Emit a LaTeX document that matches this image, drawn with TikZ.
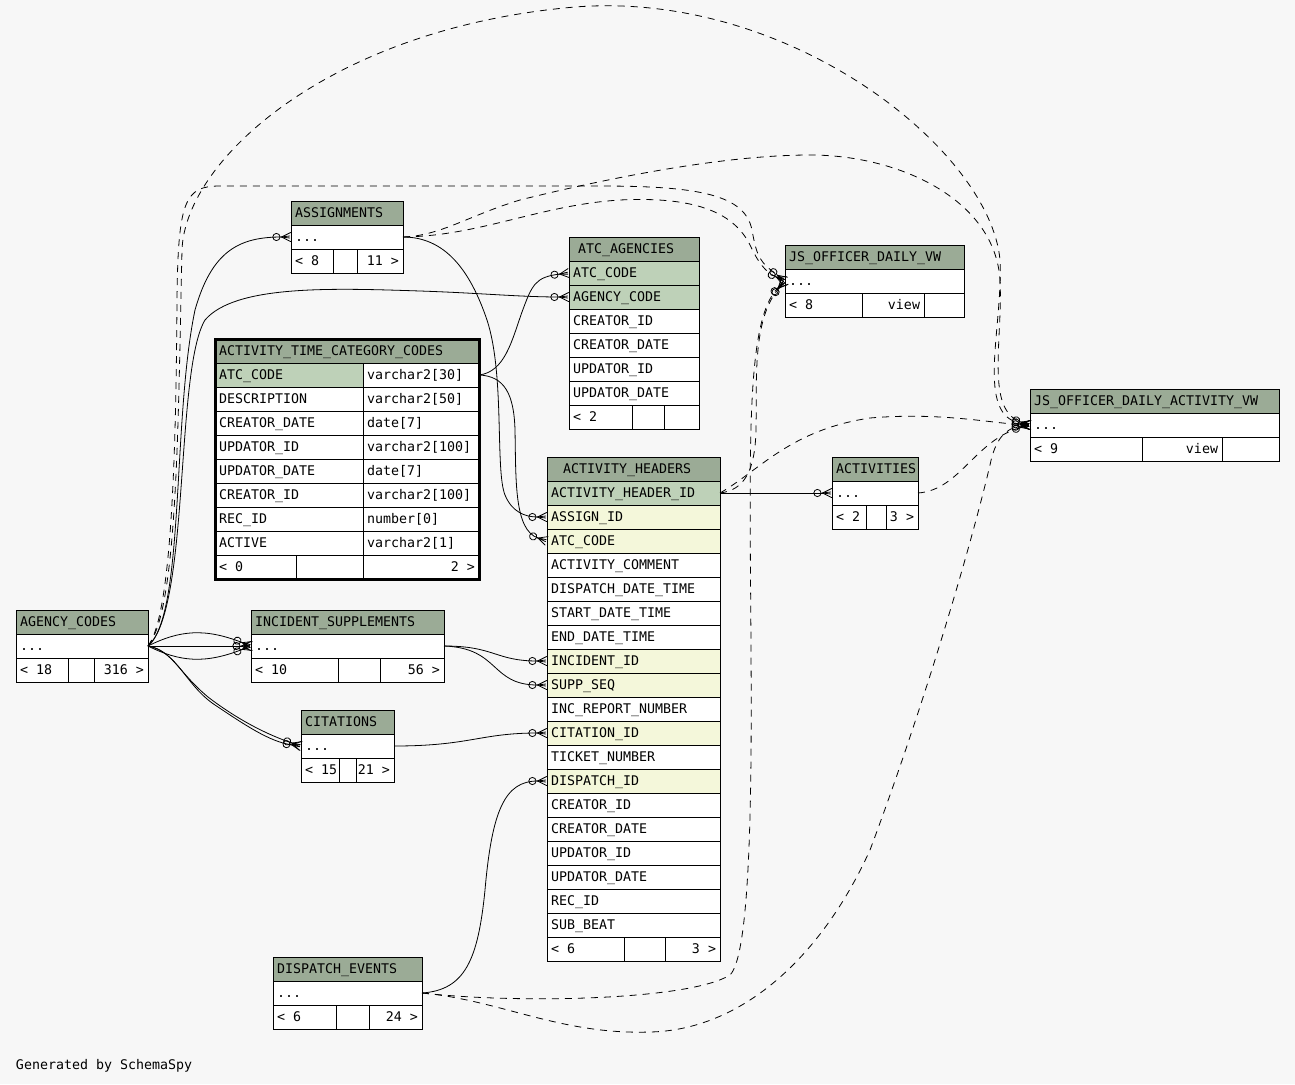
\documentclass[tikz,border=0pt]{standalone}
\usepackage{fontspec}
\setmainfont{DejaVu Sans Mono}
\usetikzlibrary{arrows.meta}
\definecolor{bgc}{HTML}{F7F7F7}
\definecolor{hdr}{HTML}{9BAB96}
\definecolor{pkc}{HTML}{BED1B8}
\definecolor{fkc}{HTML}{F4F7DA}
\tikzset{
  cellbox/.style={draw=black, line width=1pt, anchor=north west, minimum height=24pt, inner sep=0pt, outer sep=0pt},
  ctext/.style={inner sep=0pt, outer sep=0pt, font=\fontsize{13.3}{16}\selectfont, text=black},
  crowo/.tip={Circle[open,length=8pt,width=8pt,sep=0pt] Straight Barb[reversed,round,length=9pt,width=2pt,sep=-9pt] Straight Barb[reversed,round,length=9pt,width=9pt]},
  fk/.style={draw=black, line width=0.8pt, -{crowo}},
  implied/.style={fk, dash pattern=on 7pt off 6pt},
}
% name, x1, x2, ytop, fill, text
\newcommand\rowL[6]{%
  \node[cellbox, fill=#5, minimum width=#3-#2] (#1) at (#2,#4) {};
  \node[ctext, anchor=base west] (#1-t) at (#2+4,#4+16) {#6};}
\newcommand\rowR[6]{%
  \node[cellbox, fill=#5, minimum width=#3-#2] (#1) at (#2,#4) {};
  \node[ctext, anchor=base east] (#1-t) at (#3-4,#4+16) {#6};}
% header: name, x1, x2, ytop, textx, text
\newcommand\hdrcell[6]{%
  \node[cellbox, fill=hdr, minimum width=#3-#2] (#1) at (#2,#4) {};
  \node[ctext, anchor=base west] (#1-t) at (#5,#4+16) {#6};}
\begin{document}
\begin{tikzpicture}[x=1pt,y=-1pt]
\path[use as bounding box, fill=bgc] (0,0) rectangle (1295,1084);

% ---------------- ASSIGNMENTS
\hdrcell{as-h}{291}{403}{201}{295}{ASSIGNMENTS}
\rowL{as-r}{291}{403}{225}{white}{...}
\rowL{as-f1}{291}{333}{249}{white}{< 8}
\rowL{as-f2}{333}{357}{249}{white}{}
\rowR{as-f3}{357}{403}{249}{white}{11 >}

% ---------------- ATC_AGENCIES
\hdrcell{aa-h}{569}{699}{237}{578}{ATC\_AGENCIES}
\rowL{aa-1}{569}{699}{261}{pkc}{ATC\_CODE}
\rowL{aa-2}{569}{699}{285}{pkc}{AGENCY\_CODE}
\rowL{aa-3}{569}{699}{309}{white}{CREATOR\_ID}
\rowL{aa-4}{569}{699}{333}{white}{CREATOR\_DATE}
\rowL{aa-5}{569}{699}{357}{white}{UPDATOR\_ID}
\rowL{aa-6}{569}{699}{381}{white}{UPDATOR\_DATE}
\rowL{aa-f1}{569}{632}{405}{white}{< 2}
\rowL{aa-f2}{632}{664}{405}{white}{}
\rowL{aa-f3}{664}{699}{405}{white}{}

% ---------------- ACTIVITY_TIME_CATEGORY_CODES
\hdrcell{tc-h}{215}{479}{339}{219}{ACTIVITY\_TIME\_CATEGORY\_CODES}
\rowL{tc-1a}{215}{363}{363}{pkc}{ATC\_CODE}
\rowL{tc-1b}{363}{479}{363}{white}{varchar2[30]}
\rowL{tc-2a}{215}{363}{387}{white}{DESCRIPTION}
\rowL{tc-2b}{363}{479}{387}{white}{varchar2[50]}
\rowL{tc-3a}{215}{363}{411}{white}{CREATOR\_DATE}
\rowL{tc-3b}{363}{479}{411}{white}{date[7]}
\rowL{tc-4a}{215}{363}{435}{white}{UPDATOR\_ID}
\rowL{tc-4b}{363}{479}{435}{white}{varchar2[100]}
\rowL{tc-5a}{215}{363}{459}{white}{UPDATOR\_DATE}
\rowL{tc-5b}{363}{479}{459}{white}{date[7]}
\rowL{tc-6a}{215}{363}{483}{white}{CREATOR\_ID}
\rowL{tc-6b}{363}{479}{483}{white}{varchar2[100]}
\rowL{tc-7a}{215}{363}{507}{white}{REC\_ID}
\rowL{tc-7b}{363}{479}{507}{white}{number[0]}
\rowL{tc-8a}{215}{363}{531}{white}{ACTIVE}
\rowL{tc-8b}{363}{479}{531}{white}{varchar2[1]}
\rowL{tc-f1}{215}{296}{555}{white}{< 0}
\rowL{tc-f2}{296}{363}{555}{white}{}
\rowR{tc-f3}{363}{479}{555}{white}{2 >}
\node[draw=black, line width=3pt, anchor=north west, minimum width=264, minimum height=240, inner sep=0pt, outer sep=0pt] (tc) at (215,339) {};

% ---------------- JS_OFFICER_DAILY_VW
\hdrcell{jv-h}{785}{964}{245}{789}{JS\_OFFICER\_DAILY\_VW}
\rowL{jv-r}{785}{964}{269}{white}{...}
\rowL{jv-f1}{785}{862}{293}{white}{< 8}
\rowR{jv-f2}{862}{924}{293}{white}{view}
\rowL{jv-f3}{924}{964}{293}{white}{}

% ---------------- JS_OFFICER_DAILY_ACTIVITY_VW
\hdrcell{ja-h}{1030}{1279}{389}{1034}{JS\_OFFICER\_DAILY\_ACTIVITY\_VW}
\rowL{ja-r}{1030}{1279}{413}{white}{...}
\rowL{ja-f1}{1030}{1142}{437}{white}{< 9}
\rowR{ja-f2}{1142}{1222}{437}{white}{view}
\rowL{ja-f3}{1222}{1279}{437}{white}{}

% ---------------- ACTIVITY_HEADERS
\hdrcell{ah-h}{547}{720}{457}{563}{ACTIVITY\_HEADERS}
\rowL{ah-1}{547}{720}{481}{pkc}{ACTIVITY\_HEADER\_ID}
\rowL{ah-2}{547}{720}{505}{fkc}{ASSIGN\_ID}
\rowL{ah-3}{547}{720}{529}{fkc}{ATC\_CODE}
\rowL{ah-4}{547}{720}{553}{white}{ACTIVITY\_COMMENT}
\rowL{ah-5}{547}{720}{577}{white}{DISPATCH\_DATE\_TIME}
\rowL{ah-6}{547}{720}{601}{white}{START\_DATE\_TIME}
\rowL{ah-7}{547}{720}{625}{white}{END\_DATE\_TIME}
\rowL{ah-8}{547}{720}{649}{fkc}{INCIDENT\_ID}
\rowL{ah-9}{547}{720}{673}{fkc}{SUPP\_SEQ}
\rowL{ah-10}{547}{720}{697}{white}{INC\_REPORT\_NUMBER}
\rowL{ah-11}{547}{720}{721}{fkc}{CITATION\_ID}
\rowL{ah-12}{547}{720}{745}{white}{TICKET\_NUMBER}
\rowL{ah-13}{547}{720}{769}{fkc}{DISPATCH\_ID}
\rowL{ah-14}{547}{720}{793}{white}{CREATOR\_ID}
\rowL{ah-15}{547}{720}{817}{white}{CREATOR\_DATE}
\rowL{ah-16}{547}{720}{841}{white}{UPDATOR\_ID}
\rowL{ah-17}{547}{720}{865}{white}{UPDATOR\_DATE}
\rowL{ah-18}{547}{720}{889}{white}{REC\_ID}
\rowL{ah-19}{547}{720}{913}{white}{SUB\_BEAT}
\rowL{ah-f1}{547}{624}{937}{white}{< 6}
\rowL{ah-f2}{624}{665}{937}{white}{}
\rowR{ah-f3}{665}{720}{937}{white}{3 >}

% ---------------- ACTIVITIES
\hdrcell{ac-h}{832}{918}{457}{836}{ACTIVITIES}
\rowL{ac-r}{832}{918}{481}{white}{...}
\rowL{ac-f1}{832}{866}{505}{white}{< 2}
\rowL{ac-f2}{866}{886}{505}{white}{}
\rowR{ac-f3}{886}{918}{505}{white}{3 >}

% ---------------- AGENCY_CODES
\hdrcell{ag-h}{16}{148}{610}{20}{AGENCY\_CODES}
\rowL{ag-r}{16}{148}{634}{white}{...}
\rowL{ag-f1}{16}{68}{658}{white}{< 18}
\rowL{ag-f2}{68}{94}{658}{white}{}
\rowR{ag-f3}{94}{148}{658}{white}{316 >}

% ---------------- INCIDENT_SUPPLEMENTS
\hdrcell{is-h}{251}{444}{610}{255}{INCIDENT\_SUPPLEMENTS}
\rowL{is-r}{251}{444}{634}{white}{...}
\rowL{is-f1}{251}{338}{658}{white}{< 10}
\rowL{is-f2}{338}{380}{658}{white}{}
\rowR{is-f3}{380}{444}{658}{white}{56 >}

% ---------------- CITATIONS
\hdrcell{ci-h}{301}{394}{710}{305}{CITATIONS}
\rowL{ci-r}{301}{394}{734}{white}{...}
\rowL{ci-f1}{301}{339}{758}{white}{< 15}
\rowL{ci-f2}{339}{356}{758}{white}{}
\rowR{ci-f3}{356}{394}{758}{white}{21 >}

% ---------------- DISPATCH_EVENTS
\hdrcell{de-h}{273}{422}{957}{277}{DISPATCH\_EVENTS}
\rowL{de-r}{273}{422}{981}{white}{...}
\rowL{de-f1}{273}{336}{1005}{white}{< 6}
\rowL{de-f2}{336}{369}{1005}{white}{}
\rowR{de-f3}{369}{422}{1005}{white}{24 >}

\node[ctext, anchor=base west] (gen) at (16,1069) {Generated by SchemaSpy};

% ================= solid relationships
\draw[fk] (ag-r.east) .. controls (185,615) and (172,420) .. (195,310) .. controls (212,250) and (240,237) .. (as-r.west);
\draw[fk] (ag-r.east) .. controls (190,610) and (175,370) .. (205,320) .. controls (235,285) and (330,288) .. (420,291) .. controls (480,293) and (520,297) .. (aa-2.west);
\draw[fk] (ag-r.east) .. controls (180,630) and (205,628) .. (is-r.west);
\draw[fk] (ag-r.east) -- (is-r.west);
\draw[fk] (ag-r.east) .. controls (180,662) and (205,664) .. (is-r.west);
\draw[fk] (ag-r.east) .. controls (178,652) and (185,685) .. (215,705) .. controls (245,725) and (270,742) .. (ci-r.west);
\draw[fk] (ag-r.east) .. controls (172,650) and (178,672) .. (208,697) .. controls (238,720) and (268,735) .. (ci-r.west);
\draw[fk] (tc-1b.east) .. controls (505,372) and (512,340) .. (522,312) .. controls (532,285) and (535,277) .. (aa-1.west);
\draw[fk] (tc-1b.east) .. controls (505,376) and (514,395) .. (515,430) .. controls (516,480) and (514,530) .. (ah-3.west);
\draw[fk] (as-r.east) .. controls (445,237) and (470,270) .. (487,320) .. controls (505,375) and (495,470) .. (505,495) .. controls (512,512) and (525,517) .. (ah-2.west);
\draw[fk] (is-r.east) .. controls (495,646) and (495,661) .. (ah-8.west);
\draw[fk] (is-r.east) .. controls (500,648) and (490,685) .. (ah-9.west);
\draw[fk] (ci-r.east) .. controls (470,746) and (480,733) .. (ah-11.west);
\draw[fk] (de-r.east) .. controls (465,990) and (478,960) .. (485,890) .. controls (492,810) and (505,781) .. (ah-13.west);
\draw[fk] (ah-1.east) -- (ac-r.west);

% ================= implied relationships (views)
\draw[implied] (ag-r.east) .. controls (178,610) and (178,420) .. (182,250) .. controls (185,160) and (330,28) .. (575,7) .. controls (790,-10) and (990,150) .. (1000,260) .. controls (1003,330) and (975,415) .. (ja-r.west);
\draw[implied] (ag-r.east) .. controls (172,615) and (176,450) .. (177,300) .. controls (178,200) and (185,186) .. (220,186) -- (600,186) .. controls (700,186) and (745,195) .. (752,230) .. controls (757,258) and (760,262) .. (jv-r.west);
\draw[implied] (as-r.east) .. controls (480,236) and (540,205) .. (620,200) .. controls (700,196) and (735,215) .. (750,245) .. controls (758,262) and (765,272) .. (jv-r.west);
\draw[implied] (as-r.east) .. controls (440,236) and (470,215) .. (520,200) .. controls (600,180) and (720,155) .. (810,155) .. controls (900,155) and (995,200) .. (1000,280) .. controls (1003,340) and (985,410) .. (ja-r.west);
\draw[implied] (ah-1.east) .. controls (745,490) and (755,470) .. (756,430) .. controls (757,380) and (752,320) .. (jv-r.west);
\draw[implied] (ah-1.east) .. controls (760,470) and (790,430) .. (870,418) .. controls (940,412) and (990,423) .. (ja-r.west);
\draw[implied] (ac-r.east) .. controls (960,490) and (975,440) .. (ja-r.west);
\draw[implied] (de-r.east) .. controls (520,1004) and (690,1000) .. (730,975) .. controls (750,955) and (752,800) .. (751,650) .. controls (750,450) and (745,320) .. (jv-r.west);
\draw[implied] (de-r.east) .. controls (500,1000) and (560,1035) .. (650,1032) .. controls (740,1030) and (820,960) .. (870,850) .. controls (915,730) and (965,570) .. (990,465) .. controls (995,440) and (1005,428) .. (ja-r.west);
\end{tikzpicture}
\end{document}
